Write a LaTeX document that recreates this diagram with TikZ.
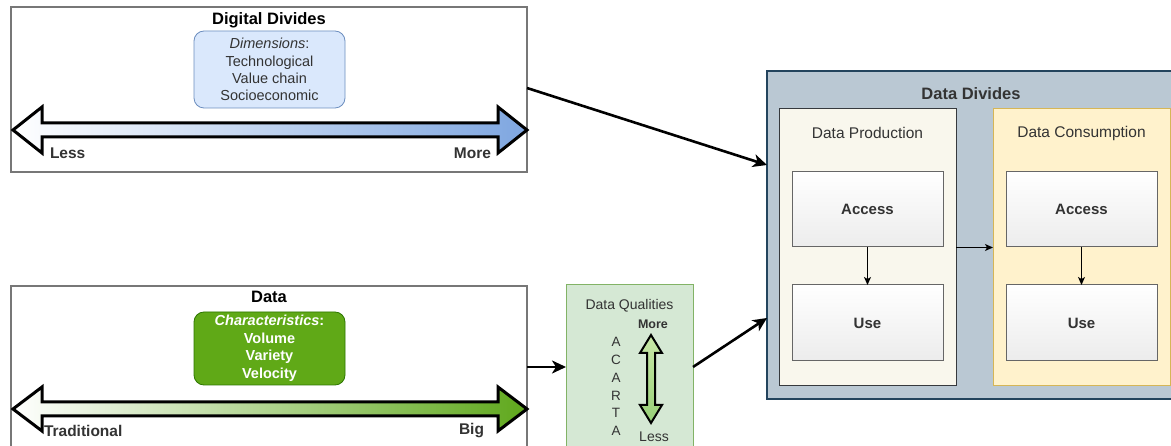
\documentclass[tikz,border=0pt]{standalone}
\usepackage{fontspec}
\setmainfont{Liberation Sans}
\usetikzlibrary{arrows.meta,calc}
\definecolor{frameGray}{HTML}{777777}
\definecolor{dimFill}{HTML}{DAE8FC}
\definecolor{dimLine}{HTML}{6C8EBF}
\definecolor{arrBlue}{HTML}{7EA6E0}
\definecolor{chFill}{HTML}{60A917}
\definecolor{chLine}{HTML}{2D7600}
\definecolor{arrGreen}{HTML}{5FA81C}
\definecolor{dqFill}{HTML}{D5E8D4}
\definecolor{dqLine}{HTML}{82B366}
\definecolor{vaTop}{HTML}{C9E8A8}
\definecolor{vaBot}{HTML}{97D077}
\definecolor{ddFill}{HTML}{BAC8D3}
\definecolor{ddLine}{HTML}{23445D}
\definecolor{dpFill}{HTML}{F9F7ED}
\definecolor{dpLine}{HTML}{36393D}
\definecolor{dcFill}{HTML}{FFF2CC}
\definecolor{dcLine}{HTML}{D6B656}
\definecolor{boxLine}{HTML}{666666}
\definecolor{boxBot}{HTML}{ECECEC}
\definecolor{txtGray}{HTML}{333333}
\begin{document}
\begin{tikzpicture}[x=1pt,y=-1pt,
  every node/.style={inner sep=0pt,outer sep=0pt},
  frame/.style={draw=frameGray,line width=1.6pt,fill=white},
  titleText/.style={font=\fontsize{16.5}{19}\selectfont\bfseries},
  labelText/.style={font=\fontsize{15.5}{18}\selectfont\bfseries,text=txtGray},
  dimbox/.style={draw=dimLine,fill=dimFill,rounded corners=10pt,line width=0.8pt,align=center,
     font=\fontsize{14.5}{17.3}\selectfont,text=txtGray},
  chbox/.style={draw=chLine,fill=chFill,rounded corners=10pt,line width=0.8pt,align=center,
     font=\fontsize{14.5}{17.5}\selectfont\bfseries,text=white},
  dblarrow/.style={draw=black,line width=3pt,line join=miter,miter limit=10},
  conn/.style={draw=black,line width=2.6pt,-{Stealth[length=14pt,width=13pt,inset=4pt]}},
  thinconn/.style={draw=black,line width=1pt,-{Stealth[length=8pt,width=7pt,inset=2pt]}},
  inbox/.style={draw=boxLine,line width=1pt,top color=white,bottom color=boxBot,
     minimum width=151pt,minimum height=75pt,font=\fontsize{15}{18}\selectfont\bfseries,text=txtGray},
  grpText/.style={font=\fontsize{15.5}{18}\selectfont,text=txtGray}
]
\useasboundingbox (0,0) rectangle (1171,446);
\clip (0,0) rectangle (1171,446);

% ---------- top-left: Digital Divides ----------
\node[frame,minimum width=516pt,minimum height=165pt] (tb) at (269,89.5) {};
\node[titleText] (tbt) at (269,20) {Digital Divides};
\node[dimbox,minimum width=151pt,minimum height=77pt] (dim) at (269.5,69.5)
  {\textit{Dimensions}:\\Technological\\Value chain\\Socioeconomic};
\path[dblarrow,left color=white,right color=arrBlue]
  (13,130) -- (42,107) -- (42,123) -- (498,123) -- (498,107) -- (527,130)
  -- (498,153) -- (498,137) -- (42,137) -- (42,153) -- cycle;
\node[labelText,anchor=west] (less1) at (50,153) {Less};
\node[labelText,anchor=east] (more1) at (491,153) {More};

% ---------- bottom-left: Data ----------
\node[frame,minimum width=516pt,minimum height=162pt] (bb) at (269,367) {};
\node[titleText] (bbt) at (269,297) {Data};
\node[chbox,minimum width=151pt,minimum height=73pt] (ch) at (269.5,348.5)
  {\textit{Characteristics}:\\Volume\\Variety\\Velocity};
\path[dblarrow,left color=white,right color=arrGreen]
  (13,409) -- (42,387) -- (42,402) -- (498,402) -- (498,387) -- (527,409)
  -- (498,431) -- (498,416) -- (42,416) -- (42,431) -- cycle;
\node[labelText,anchor=west] (trad) at (44,431) {Traditional};
\node[labelText,anchor=east] (big) at (484,431) {Big};

% ---------- Data Qualities ----------
\node[draw=dqLine,fill=dqFill,line width=1pt,minimum width=127pt,minimum height=164pt] (dq) at (629.5,367) {};
\node[font=\fontsize{14}{16}\selectfont,text=txtGray] (dqt) at (629.5,306) {Data Qualities};
\node[font=\fontsize{12.5}{14}\selectfont\bfseries,text=txtGray] (dqmore) at (653,324) {More};
\node[font=\fontsize{14}{16}\selectfont,text=txtGray] (dqless) at (654,437) {Less};
\node[font=\fontsize{13.5}{17.8}\selectfont,align=center,text=txtGray] (acarta) at (616,386.5) {A\\C\\A\\R\\T\\A};
\path[draw=black,line width=2pt,line join=miter,top color=vaTop,bottom color=vaBot]
  (651,335) -- (662,353) -- (655,353) -- (655,405) -- (662,405) -- (651,423)
  -- (640,405) -- (647,405) -- (647,353) -- (640,353) -- cycle;

% ---------- Data Divides ----------
\node[draw=ddLine,fill=ddFill,line width=1.5pt,minimum width=408pt,minimum height=328pt] (dd) at (971,235) {};
\node[font=\fontsize{16.5}{19}\selectfont\bfseries,text=txtGray] (ddt) at (971,94) {Data Divides};
\node[draw=dpLine,fill=dpFill,line width=1pt,minimum width=177pt,minimum height=277pt] (dp) at (867.5,247.5) {};
\node[grpText] (dpt) at (867.5,133) {Data Production};
\node[draw=dcLine,fill=dcFill,line width=1pt,minimum width=177pt,minimum height=277pt] (dc) at (1081.5,247.5) {};
\node[grpText] (dct) at (1081.5,133) {Data Consumption};
\node[inbox] (pa) at (867.5,209.5) {Access};
\node[inbox,minimum height=76pt] (pu) at (867.5,323) {Use};
\node[inbox] (ca) at (1081.5,209.5) {Access};
\node[inbox,minimum height=76pt] (cu) at (1081.5,323) {Use};
\draw[thinconn] (pa) -- (pu);
\draw[thinconn] (ca) -- (cu);
\draw[thinconn] (dp.east) -- (dc.west);

% ---------- connectors ----------
\draw[conn] ([yshift=1.5pt]tb.east) -- ([yshift=70pt]dd.west);
\draw[conn] (bb.east) -- (dq.west);
\draw[conn] (dq.east) -- ([yshift=-83pt]dd.west);
\end{tikzpicture}
\end{document}
